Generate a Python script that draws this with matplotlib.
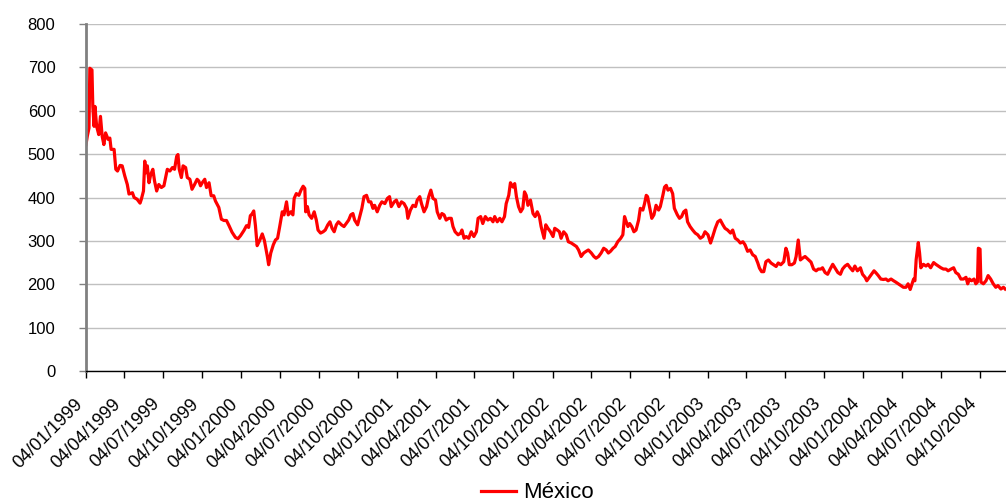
import pandas as pd
import matplotlib
matplotlib.use('Agg')
import matplotlib.pyplot as plt
import matplotlib.dates as mdates
from matplotlib.ticker import MultipleLocator
from matplotlib.transforms import ScaledTranslation

plt.rcParams['font.family'] = ['Liberation Sans', 'DejaVu Sans']

# spread series (days counted from 04/01/1999)
start = pd.Timestamp('1999-01-04')
days = [0, 3, 7, 9, 14, 16, 19, 21, 25, 30, 34, 38, 42, 46, 52, 56, 59, 66, 70, 74,
        80, 85, 91, 97, 101, 109, 113, 120, 127, 130, 135, 138, 141, 144, 148, 152, 157, 161, 166, 171,
        177, 183, 187, 191, 197, 203, 208, 213, 216, 219, 224, 228, 234, 238, 244, 249, 255, 261, 265, 269,
        273, 279, 283, 289, 294, 300, 304, 312, 318, 324, 330, 336, 343, 351, 357, 363, 371, 377, 382, 386,
        390, 394, 398, 402, 408, 414, 419, 426, 429, 434, 440, 445, 450, 455, 461, 465, 471, 475, 481, 486,
        489, 494, 500, 505, 510, 514, 516, 520, 524, 530, 536, 541, 545, 551, 557, 562, 568, 573, 578, 583,
        588, 593, 600, 606, 611, 617, 622, 627, 631, 638, 643, 648, 653, 659, 664, 669, 674, 678, 684, 690,
        695, 702, 708, 713, 717, 724, 729, 735, 741, 747, 753, 756, 762, 768, 774, 778, 784, 788, 794, 800,
        805, 810, 815, 821, 825, 831, 836, 841, 846, 852, 858, 862, 867, 874, 880, 883, 888, 893, 899, 905,
        911, 917, 921, 927, 932, 938, 944, 950, 956, 960, 966, 972, 977, 983, 987, 993, 997, 1003, 1007, 1011,
        1016, 1021, 1026, 1030, 1034, 1038, 1044, 1050, 1055, 1060, 1065, 1069, 1076, 1080, 1085, 1091, 1097, 1101, 1107, 1112,
        1116, 1122, 1128, 1133, 1140, 1146, 1152, 1157, 1163, 1169, 1175, 1180, 1187, 1193, 1198, 1204, 1210, 1216, 1222, 1227,
        1232, 1238, 1243, 1249, 1256, 1261, 1265, 1269, 1273, 1277, 1282, 1287, 1292, 1298, 1302, 1308, 1312, 1316, 1319, 1323,
        1329, 1334, 1339, 1345, 1349, 1355, 1359, 1363, 1367, 1373, 1378, 1382, 1389, 1394, 1399, 1404, 1409, 1413, 1419, 1425,
        1431, 1437, 1443, 1449, 1454, 1461, 1467, 1472, 1478, 1484, 1490, 1496, 1501, 1507, 1514, 1519, 1525, 1531, 1537, 1543,
        1548, 1554, 1560, 1566, 1572, 1578, 1582, 1587, 1592, 1597, 1603, 1609, 1615, 1621, 1626, 1632, 1639, 1644, 1648, 1652,
        1658, 1664, 1668, 1673, 1678, 1683, 1689, 1703, 1709, 1715, 1720, 1726, 1730, 1736, 1742, 1748, 1754, 1759, 1766, 1772,
        1777, 1783, 1789, 1795, 1801, 1806, 1812, 1819, 1824, 1830, 1834, 1840, 1845, 1851, 1855, 1861, 1867, 1873, 1879, 1884,
        1891, 1897, 1902, 1908, 1914, 1920, 1926, 1931, 1936, 1939, 1944, 1947, 1950, 1955, 1958, 1961, 1967, 1973, 1978, 1984,
        1991, 1996, 2002, 2008, 2014, 2020, 2025, 2032, 2038, 2043, 2049, 2055, 2061, 2067, 2071, 2075, 2080, 2086, 2090, 2094,
        2096, 2100, 2102, 2108, 2114, 2119, 2125, 2131, 2137, 2142, 2149, 2155, 2159]
spread = [522, 541, 560, 698, 694, 610, 564, 610, 564, 545, 587, 541, 522, 549, 534, 537, 511, 511, 465, 461,
          474, 473, 450, 430, 408, 411, 400, 396, 387, 396, 415, 484, 457, 473, 434, 453, 465, 438, 415, 430,
          423, 427, 446, 465, 461, 469, 465, 495, 499, 465, 446, 473, 469, 446, 442, 419, 430, 442, 438, 427,
          434, 442, 423, 434, 404, 404, 392, 377, 350, 347, 347, 335, 320, 308, 305, 312, 324, 335, 331, 358,
          362, 369, 335, 289, 301, 316, 301, 264, 245, 272, 291, 302, 306, 333, 367, 360, 390, 360, 367, 360,
          398, 409, 405, 417, 426, 421, 367, 379, 360, 352, 367, 348, 325, 318, 321, 325, 337, 344, 329, 321,
          337, 344, 337, 333, 340, 348, 360, 363, 348, 337, 356, 375, 402, 405, 390, 390, 375, 382, 367, 382,
          390, 386, 398, 402, 379, 390, 394, 379, 390, 386, 375, 352, 371, 382, 379, 394, 402, 386, 367, 379,
          402, 417, 398, 394, 367, 352, 363, 360, 348, 352, 352, 333, 321, 314, 318, 325, 306, 310, 306, 321,
          310, 321, 352, 356, 340, 356, 348, 352, 344, 356, 344, 352, 344, 356, 386, 405, 434, 424, 432, 402,
          379, 367, 375, 413, 405, 382, 394, 363, 356, 367, 356, 333, 306, 337, 329, 321, 310, 329, 325, 321,
          306, 321, 314, 298, 295, 291, 287, 279, 264, 272, 276, 279, 272, 264, 260, 264, 272, 283, 279, 272,
          276, 283, 287, 298, 306, 314, 356, 344, 333, 340, 333, 321, 325, 348, 375, 371, 386, 405, 402, 382,
          352, 360, 382, 371, 379, 405, 424, 428, 417, 421, 409, 375, 360, 352, 356, 367, 371, 344, 333, 325,
          318, 314, 306, 310, 321, 314, 295, 310, 329, 344, 348, 337, 329, 325, 318, 325, 306, 302, 295, 298,
          291, 276, 279, 268, 264, 249, 237, 229, 229, 252, 256, 249, 245, 241, 249, 245, 252, 283, 272, 245,
          245, 249, 264, 302, 256, 260, 264, 251, 235, 231, 235, 235, 238, 227, 223, 235, 246, 238, 227, 223,
          235, 242, 246, 238, 231, 242, 231, 238, 223, 216, 208, 216, 223, 231, 227, 220, 212, 211, 212, 208,
          212, 208, 205, 201, 197, 193, 193, 201, 188, 197, 212, 208, 257, 296, 272, 238, 246, 242, 246, 238,
          250, 246, 242, 238, 235, 235, 231, 235, 238, 227, 223, 212, 212, 216, 201, 212, 208, 212, 201, 205,
          283, 281, 205, 201, 208, 220, 212, 201, 193, 197, 189, 193, 189]

dates = start + pd.to_timedelta(days, unit='D')

fig = plt.figure(figsize=(10.06, 5.04), dpi=100)
ax = fig.add_axes([86/1006, 133/504, 920/1006, 347/504])

ax.plot(dates, spread, color='#ff0000', linewidth=2.3, label='México')

ax.set_ylim(0, 800)
ax.yaxis.set_major_locator(MultipleLocator(100))
ax.set_xlim(start, start + pd.Timedelta(days=2161))
ax.xaxis.set_major_locator(mdates.MonthLocator(bymonth=[1, 4, 7, 10], bymonthday=4))
ax.xaxis.set_major_formatter(mdates.DateFormatter('%d/%m/%Y'))

ax.grid(axis='y', color='#c0c0c0', linewidth=1)
ax.set_axisbelow(True)
for s in ['top', 'right']:
    ax.spines[s].set_visible(False)
ax.spines['left'].set_color('#808080')
ax.spines['left'].set_linewidth(2)
ax.spines['bottom'].set_color('black')
ax.spines['bottom'].set_linewidth(1)

ax.tick_params(axis='y', labelsize=12, length=5, width=1, color='#808080', pad=17)
ax.tick_params(axis='x', labelsize=13, length=5, width=1, color='black', pad=12.5)

fig.legend(loc='center', bbox_to_anchor=(537/1006, 11/504), frameon=False,
           fontsize=16, handlelength=1.6, handletextpad=0.3)

# rotate the date labels and nudge them left, after ticks exist
fig.canvas.draw()
shift = ScaledTranslation(-12/100, 0, fig.dpi_scale_trans)
for lbl in ax.get_xticklabels():
    lbl.set_rotation(45)
    lbl.set_ha('right')
    lbl.set_va('top')
    lbl.set_rotation_mode('anchor')
    lbl.set_transform(lbl.get_transform() + shift)

plt.savefig('out.png', dpi=100)
